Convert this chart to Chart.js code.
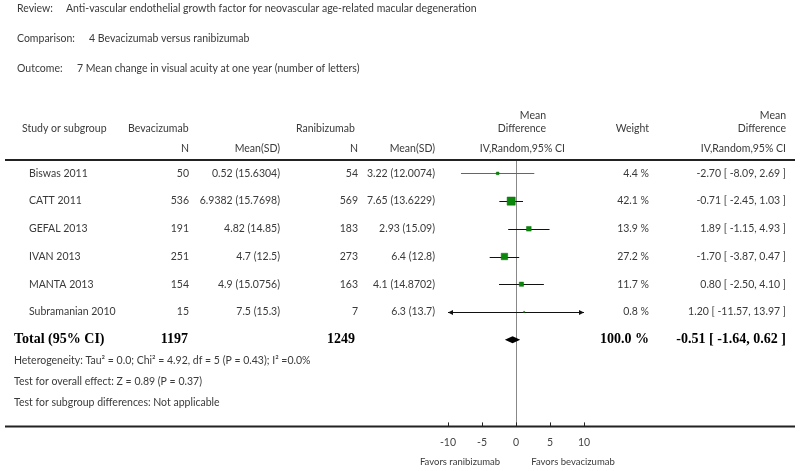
<!DOCTYPE html>
<html>
<head>
<meta charset="utf-8">
<script src="https://cdn.jsdelivr.net/npm/chart.js@4.4.1/dist/chart.umd.min.js"></script>
<style>
  html, body { margin: 0; padding: 0; background: #fff; }
  canvas { display: block; }
</style>
</head>
<body>
<canvas id="canvas" width="800" height="471"></canvas>
<script>
// header info
const review = 'Anti-vascular endothelial growth factor for neovascular age-related macular degeneration'
const comparison = '4 Bevacizumab versus ranibizumab'
const outcome = '7 Mean change in visual acuity at one year (number of letters)'

// study rows
const studies = ['Biswas 2011', 'CATT 2011', 'GEFAL 2013', 'IVAN 2013', 'MANTA 2013', 'Subramanian 2010']
const bevN = [50, 536, 191, 251, 154, 15]
const bevMeanSD = ['0.52 (15.6304)', '6.9382 (15.7698)', '4.82 (14.85)', '4.7 (12.5)', '4.9 (15.0756)', '7.5 (15.3)']
const raniN = [54, 569, 183, 273, 163, 7]
const raniMeanSD = ['3.22 (12.0074)', '7.65 (13.6229)', '2.93 (15.09)', '6.4 (12.8)', '4.1 (14.8702)', '6.3 (13.7)']
const meanDiff = [-2.70, -0.71, 1.89, -1.70, 0.80, 1.20]
const ciLow = [-8.09, -2.45, -1.15, -3.87, -2.50, -11.57]
const ciHigh = [2.69, 1.03, 4.93, 0.47, 4.10, 13.97]
const weights = [4.4, 42.1, 13.9, 27.2, 11.7, 0.8]

// pooled result
const totalBevN = 1197
const totalRaniN = 1249
const totalMD = -0.51
const totalLow = -1.64
const totalHigh = 0.62
const totalWeight = 100.0
const footnotes = [
    'Heterogeneity: Tau\u00b2 = 0.0; Chi\u00b2 = 4.92, df = 5 (P = 0.43); I\u00b2 =0.0%',
    'Test for overall effect: Z = 0.89 (P = 0.37)',
    'Test for subgroup differences: Not applicable'
]
const xTicks = [-10, -5, 0, 5, 10]
const favorsLeft = 'Favors ranibizumab'
const favorsRight = 'Favors bevacizumab'

const FONT = 'Lato, "DejaVu Sans", sans-serif'
const TXT = '#3a3a3a'
const fmt2 = (v) => v.toFixed(2)
const ciText = (m, l, h) => fmt2(m) + ' [ ' + fmt2(l) + ', ' + fmt2(h) + ' ]'

function txt(ctx, s, x, y, align, font, color) {
    ctx.font = font || ('10.5px ' + FONT)
    ctx.fillStyle = color || TXT
    ctx.textAlign = align || 'left'
    ctx.textBaseline = 'middle'
    ctx.fillText(s, x, y)
}

// draws the CI lines, diamond, reference line and all table text
const forestPlugin = {
    id: 'forest',
    beforeDatasetsDraw(chart) {
        const ctx = chart.ctx
        const xs = chart.scales.x, ys = chart.scales.y
        const area = chart.chartArea
        ctx.save()
        // zero line
        ctx.strokeStyle = '#888'
        ctx.lineWidth = 1
        ctx.beginPath()
        ctx.moveTo(Math.round(xs.getPixelForValue(0)) + 0.5, area.top)
        ctx.lineTo(Math.round(xs.getPixelForValue(0)) + 0.5, area.bottom)
        ctx.stroke()
        // confidence intervals
        studies.forEach((s, i) => {
            const y = Math.round(ys.getPixelForValue(i)) + 0.5
            const lo = Math.max(ciLow[i], xs.min), hi = Math.min(ciHigh[i], xs.max)
            const x1 = xs.getPixelForValue(lo), x2 = xs.getPixelForValue(hi)
            ctx.strokeStyle = i === 0 ? '#666' : '#111'
            ctx.fillStyle = ctx.strokeStyle
            ctx.beginPath()
            ctx.moveTo(x1, y)
            ctx.lineTo(x2, y)
            ctx.stroke()
            if (ciLow[i] < xs.min) {
                ctx.beginPath(); ctx.moveTo(x1, y); ctx.lineTo(x1 + 5, y - 2.5); ctx.lineTo(x1 + 5, y + 2.5); ctx.fill()
            }
            if (ciHigh[i] > xs.max) {
                ctx.beginPath(); ctx.moveTo(x2, y); ctx.lineTo(x2 - 5, y - 2.5); ctx.lineTo(x2 - 5, y + 2.5); ctx.fill()
            }
        })
        // pooled diamond
        const ty = ys.getPixelForValue(studies.length)
        ctx.fillStyle = '#000'
        ctx.beginPath()
        ctx.moveTo(xs.getPixelForValue(totalLow), ty)
        ctx.lineTo(xs.getPixelForValue(totalMD), ty - 3.5)
        ctx.lineTo(xs.getPixelForValue(totalHigh), ty)
        ctx.lineTo(xs.getPixelForValue(totalMD), ty + 3.5)
        ctx.closePath()
        ctx.fill()
        ctx.restore()
    },
    afterDraw(chart) {
        const ctx = chart.ctx
        const xs = chart.scales.x, ys = chart.scales.y
        const area = chart.chartArea
        ctx.save()
        // titles
        txt(ctx, 'Review:', 17, 9); txt(ctx, review, 66, 9)
        txt(ctx, 'Comparison:', 17, 39); txt(ctx, comparison, 89, 39)
        txt(ctx, 'Outcome:', 17, 69); txt(ctx, outcome, 77, 69)
        // column headers
        txt(ctx, 'Study or subgroup', 22, 129)
        txt(ctx, 'Bevacizumab', 128, 129)
        txt(ctx, 'N', 189, 149, 'right')
        txt(ctx, 'Mean(SD)', 280, 149, 'right')
        txt(ctx, 'Ranibizumab', 296, 129)
        txt(ctx, 'N', 358, 149, 'right')
        txt(ctx, 'Mean(SD)', 435, 149, 'right')
        txt(ctx, 'Mean', 546, 116, 'right')
        txt(ctx, 'Difference', 546, 129, 'right')
        txt(ctx, 'IV,Random,95% CI', 565, 149, 'right')
        txt(ctx, 'Weight', 649, 129, 'right')
        txt(ctx, 'Mean', 786, 116, 'right')
        txt(ctx, 'Difference', 786, 129, 'right')
        txt(ctx, 'IV,Random,95% CI', 786, 149, 'right')
        // rules
        ctx.strokeStyle = '#222'
        ctx.lineWidth = 2
        ctx.beginPath(); ctx.moveTo(5, area.top); ctx.lineTo(795, area.top); ctx.stroke()
        ctx.beginPath(); ctx.moveTo(5, area.bottom); ctx.lineTo(795, area.bottom); ctx.stroke()
        // tick marks above axis line
        ctx.lineWidth = 1
        xTicks.forEach((t) => {
            const x = Math.round(xs.getPixelForValue(t)) + 0.5
            ctx.beginPath(); ctx.moveTo(x, area.bottom - 4); ctx.lineTo(x, area.bottom); ctx.stroke()
        })
        // study rows
        studies.forEach((s, i) => {
            const y = ys.getPixelForValue(i)
            txt(ctx, s, 29, y)
            txt(ctx, String(bevN[i]), 189, y, 'right')
            txt(ctx, bevMeanSD[i], 280, y, 'right')
            txt(ctx, String(raniN[i]), 358, y, 'right')
            txt(ctx, raniMeanSD[i], 435, y, 'right')
            txt(ctx, weights[i].toFixed(1) + ' %', 649, y, 'right')
            txt(ctx, ciText(meanDiff[i], ciLow[i], ciHigh[i]), 786, y, 'right')
        })
        // total row
        const ty = ys.getPixelForValue(studies.length)
        const bold = 'bold 14px "Liberation Serif", serif'
        txt(ctx, 'Total (95% CI)', 14, ty, 'left', bold, '#000')
        txt(ctx, String(totalBevN), 188, ty, 'right', bold, '#000')
        txt(ctx, String(totalRaniN), 355, ty, 'right', bold, '#000')
        txt(ctx, totalWeight.toFixed(1) + ' %', 649, ty, 'right', bold, '#000')
        txt(ctx, ciText(totalMD, totalLow, totalHigh), 786, ty, 'right', bold, '#000')
        footnotes.forEach((f, k) => txt(ctx, f, 14, 361 + k * 21))
        // favors labels
        txt(ctx, favorsLeft, 460, 462, 'center', '9.5px ' + FONT)
        txt(ctx, favorsRight, 573, 462, 'center', '9.5px ' + FONT)
        ctx.restore()
    }
}

const canvas = document.getElementById('canvas')
const ctx = canvas.getContext('2d')

const chart = new Chart(ctx, {
    type: 'scatter',
    data: {
        datasets: [{
            label: 'Studies',
            data: studies.map((s, i) => ({ x: meanDiff[i], y: i })),
            pointStyle: 'rect',
            // square side grows with sqrt(weight)
            pointRadius: weights.map((w) => Math.max(0.8, 1.25 * Math.sqrt(w) / Math.SQRT2)),
            backgroundColor: '#0b870b',
            borderColor: '#0a6e0a',
            borderWidth: 0.5
        }]
    },
    options: {
        responsive: false,
        animation: false,
        events: [],
        layout: { padding: { left: 448, right: 216, top: 160, bottom: 12 } },
        plugins: { legend: { display: false }, tooltip: { enabled: false } },
        scales: {
            x: {
                type: 'linear', min: -10, max: 10,
                grid: { display: false, drawTicks: false },
                border: { display: false },
                afterBuildTicks: (axis) => { axis.ticks = xTicks.map((v) => ({ value: v })) },
                ticks: { padding: 10, color: '#444', font: { family: FONT, size: 10.5 } }
            },
            y: {
                type: 'linear', display: false, reverse: true, min: -0.482, max: 9.13
            }
        }
    },
    plugins: [forestPlugin]
})
</script>
</body>
</html>
